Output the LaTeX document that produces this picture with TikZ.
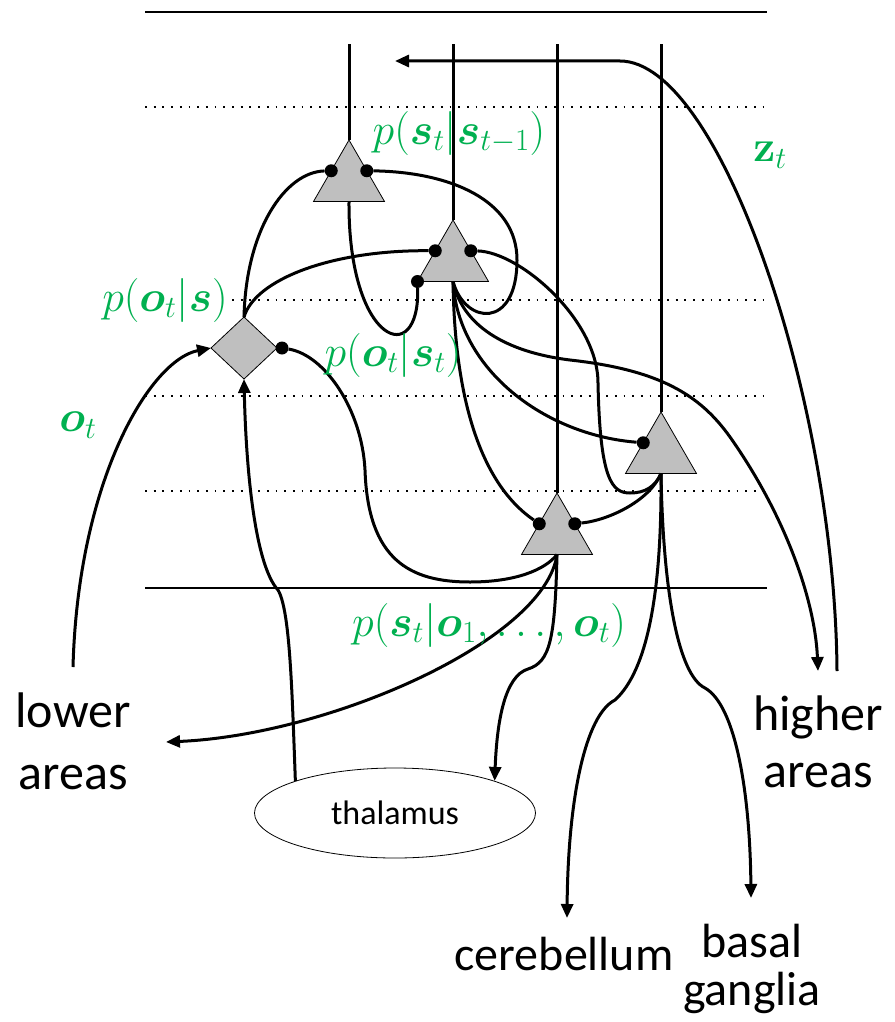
\documentclass[tikz,border=0pt]{standalone}
\usepackage{fix-cm}
\usepackage{amsmath,amssymb}
\usepackage[no-math]{fontspec}
\setmainfont{Carlito}
\usepackage{xcolor}
\usetikzlibrary{arrows.meta,positioning,shapes.geometric}

\definecolor{probgreen}{HTML}{00B050}
\definecolor{cellgray}{HTML}{BFBFBF}

\begin{document}
\begin{tikzpicture}[x=1pt, y=-1pt, >={Triangle[length=14pt,width=12pt]},
  cell/.style={regular polygon, regular polygon sides=3, minimum size=82pt,
    inner sep=0pt, outer sep=0pt, fill=cellgray, draw=black, line width=0.8pt},
  gate/.style={diamond, minimum width=66pt, minimum height=62pt,
    inner sep=0pt, outer sep=0pt, fill=cellgray, draw=black, line width=0.8pt},
  syn/.style={circle, fill=black, inner sep=0pt, minimum size=13pt},
  fibre/.style={line width=3pt},
  layer/.style={line width=1.8pt, dash pattern=on 1.8pt off 6.9pt},
  bound/.style={line width=1.8pt},
  prob/.style={text=probgreen, font=\fontsize{44}{44}\selectfont, inner sep=1pt},
  region/.style={align=center, inner sep=0pt}]
\useasboundingbox (0,0) rectangle (894,1022);

% cortical layers
\draw[bound] (145,12) -- (767,12);
\foreach \y in {107,300,396,491}
  \draw[layer] (145,\y) -- (763,\y);
\draw[bound] (145,588) -- (767,588);

% cells
\node[cell] (A) at (349,181) {};
\node[cell] (B) at (453,261) {};
\node[cell] (C) at (661,453) {};
\node[cell] (D) at (557,534) {};
\node[gate] (E) at (244,348) {};
\node[draw, ellipse, line width=0.8pt, minimum width=281pt, minimum height=90pt,
  inner sep=0pt, font=\fontsize{34}{34}\selectfont] (th) at (395,813) {thalamus};

% synapses
\node[syn] (Al) at (A.side 1) {};
\node[syn] (Ar) at (A.side 3) {};
\node[syn] (Bl) at (B.side 1) {};
\node[syn] (Br) at (B.side 3) {};
\node[syn] (Bc) at (B.corner 2) {};
\node[syn] (Cl) at (C.side 1) {};
\node[syn] (Dl) at (D.side 1) {};
\node[syn] (Dr) at (D.side 3) {};
\node[syn] (Er) at ([xshift=5pt]E.east) {};

\coordinate (axTop) at (0,44);
\coordinate (loOut) at (73,667);
\coordinate (loIn) at (166,742);
\coordinate (hiIn) at (818,671);
\coordinate (hiOut) at (837,671);
\coordinate (zIn) at (395,61);
\coordinate (cbIn) at (567,918);
\coordinate (bgIn) at (751,898);

% apical dendrites
\foreach \n in {A,B,C,D}
  \draw[fibre] (\n.corner 1) -- (\n.corner 1 |- axTop);

% into the diamond
\draw[fibre] (Al) .. controls (285,172) and (246,230) .. (E.north);
\draw[fibre] (Bl) .. controls (330,250) and (255,280) .. (E.north);
\draw[fibre,->] (loOut) .. controls (78,480) and (150,360) .. (E.west);
\draw[fibre,->] (th.north west) .. controls (292,690) and (290,610) .. (278,590)
  .. controls (255,565) and (246,470) .. (E.south);
\draw[fibre] (Er) .. controls (325,355) and (362,410) .. (365,470)
  .. controls (368,560) and (410,582) .. (470,582)
  .. controls (515,582) and (545,570) .. (D.south);

% A and B
\draw[fibre] (Ar) .. controls (450,172) and (517,200) .. (517,260)
  .. controls (517,330) and (465,325) .. (B.south);
\draw[fibre] (A.south) .. controls (348,345) and (420,370) .. (Bc);
\draw[fibre] (B.south) .. controls (458,370) and (545,435) .. (Cl);
\draw[fibre] (B.south) .. controls (455,420) and (490,490) .. (Dl);
\draw[fibre,->] (B.south) .. controls (462,325) and (505,352) .. (570,360)
  .. controls (660,370) and (700,395) .. (730,437)
  .. controls (785,515) and (815,600) .. (hiIn);
\draw[fibre] (Br) .. controls (520,252) and (598,320) .. (598,383)
  .. controls (600,480) and (612,493) .. (630,493)
  .. controls (645,493) and (655,487) .. (C.south);

% C and D
\draw[fibre] (C.south) .. controls (650,500) and (610,520) .. (Dr);
\draw[fibre,->] (C.south) .. controls (662,590) and (648,670) .. (615,700)
  .. controls (585,715) and (568,800) .. (cbIn);
\draw[fibre,->] (C.south) .. controls (663,590) and (678,675) .. (705,688)
  .. controls (735,705) and (750,790) .. (bgIn);
\draw[fibre,->] (D.south) .. controls (545,640) and (330,735) .. (loIn);
\draw[fibre,->] (D.south) .. controls (555,640) and (550,662) .. (528,669)
  .. controls (505,676) and (497,720) .. (th.north east);

% top-down
\draw[fibre,->] (hiOut) .. controls (835,400) and (720,61) .. (620,61) -- (zIn);

% labels
\node[prob] (pss) at (459,133) {$p(\boldsymbol{s}_t|\boldsymbol{s}_{t-1})$};
\node[prob] (zl) at (770,155) {$\mathbf{z}_t$};
\node[prob, fill=white] (pos) at (165,300) {$p(\boldsymbol{o}_t|\boldsymbol{s})$};
\node[prob] (post) at (393,355) {$p(\boldsymbol{o}_t|\boldsymbol{s}_t)$};
\node[prob] (ol) at (78,425) {$\boldsymbol{o}_t$};
\node[prob] (psos) at (489,625) {$p(\boldsymbol{s}_t|\boldsymbol{o}_1,\dots,\boldsymbol{o}_t)$};

\node[region, font=\fontsize{50}{62}\selectfont] (lower) at (73,741) {lower\\areas};
\node[region, font=\fontsize{50}{57}\selectfont] (higher) at (818,742) {higher\\areas};
\node[region, font=\fontsize{48}{48}\selectfont] (cb) at (564,954) {cerebellum};
\node[region, font=\fontsize{48}{48}\selectfont] (bg) at (752,969) {basal\\ganglia};
\end{tikzpicture}
\end{document}
